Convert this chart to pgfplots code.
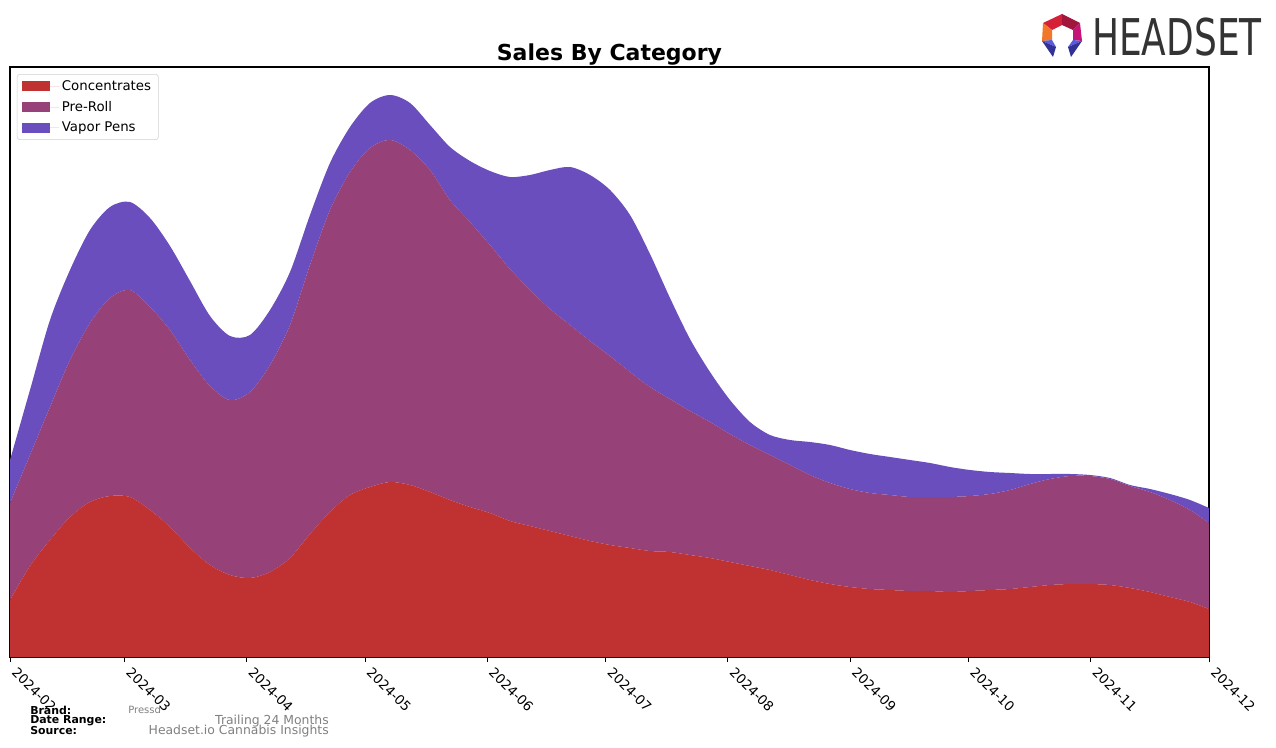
\documentclass[border=0pt]{standalone}
\usepackage{fontspec}
\setmainfont{DejaVu Sans}
\usepackage{pgfplots}
\pgfplotsset{compat=1.18}
\usepackage{pgfplotstable}
\definecolor{conc}{RGB}{192,50,50}
\definecolor{preroll}{RGB}{150,65,120}
\definecolor{vapor}{RGB}{107,78,190}
\definecolor{footgray}{RGB}{128,128,128}
\definecolor{logored}{RGB}{214,32,56}
\definecolor{logocrim}{RGB}{160,22,60}
\definecolor{logoorange}{RGB}{240,120,40}
\definecolor{logomag}{RGB}{196,20,120}
\definecolor{logoblue}{RGB}{90,90,220}
\definecolor{logonavy}{RGB}{50,50,150}
\definecolor{logotext}{RGB}{51,51,51}

% days since 2024-02-01, sales per category (arbitrary units)
\pgfplotstableread{
day    conc pre vap
0      57   97  43
5.07   91   111 65
10.14  117  133 87
15.21  140  157 90
20.28  155  179 93
25.35  161  198 91
30.43  160  207 88
35.50  147  203 89
40.57  130  197 84
45.64  109  188 79
50.71  92   179 70
55.78  82   175 64
60.85  79   186 57
65.92  85   207 55
70.99  99   233 53
76.06  123  269 50
81.13  145  302 47
86.21  162  323 45
91.28  170  339 45
96.35  175  342 45
101.42 172  335 47
106.49 165  322 45
111.56 157  300 53
116.63 150  285 61
121.70 144  268 74
126.77 136  252 92
131.84 131  236 115
136.91 126  222 139
141.99 121  211 158
147.06 116  200 166
152.13 112  189 166
157.20 109  176 157
162.27 106  164 133
167.34 105  153 101
172.41 102  144 72
177.48 99   136 50
182.55 95   128 34
187.62 91   121 23
192.69 87   115 20
197.77 82   110 25
202.84 77   105 33
207.91 73   101 38
212.98 70   98  39
218.05 68   96  39
223.12 67   95  38
228.19 66   94  37
233.26 66   94  34
238.33 65   95  30
243.40 66   95  26
248.47 67   96  22
253.55 68   99  17
258.62 70   103 10
263.69 72   106 5
268.76 73   108 2
273.83 73   108 1
278.90 72   106 1
283.97 69   102 1
289.04 65   100 3
294.11 60   97  6
299.18 55   92  10
304    48   86  15
}\sales

\begin{document}
\begin{tikzpicture}
\path (0,0) rectangle (957pt,560.25pt);
\begin{axis}[
    at={(7.5pt,67.5pt)}, anchor=south west,
    width=899.25pt, height=442.5pt, scale only axis,
    xmin=0, xmax=304, ymin=0, ymax=590,
    stack plots=y,
    xtick={0,29,60,90,121,151,182,213,243,274,304},
    xticklabels={2024-02,2024-03,2024-04,2024-05,2024-06,2024-07,2024-08,2024-09,2024-10,2024-11,2024-12},
    xticklabel style={font=\fontsize{10}{12}\selectfont, xshift=6pt, yshift=-1.5pt,
        rotate=-45, anchor=north west, inner sep=1pt},
    ytick=\empty,
    tick align=outside, major tick length=3.75pt,
    x tick style={black, line width=0.6pt},
    xtick pos=bottom,
    axis line style={line width=0.8pt},
    legend style={at={(0.0058,0.988)}, anchor=north west,
        font=\fontsize{10}{12}\selectfont, draw=black!18, rounded corners=2pt,
        inner xsep=3.5pt, inner ysep=2.5pt, row sep=2.6pt},
    legend cell align=left,
    legend image code/.code={\path[#1, sharp corners] (0pt,-3.75pt) rectangle (21pt,3.75pt);
        \path (21pt,0pt) -- (28pt,0pt);},
]
\addplot[fill=conc, draw=none, smooth]
  table[x=day, y=conc] {\sales} \closedcycle;
\addplot[fill=preroll, draw=none, smooth]
  table[x=day, y=pre] {\sales} \closedcycle;
\addplot[fill=vapor, draw=none, smooth]
  table[x=day, y=vap] {\sales} \closedcycle;
\legend{Concentrates, Pre-Roll, Vapor Pens}
\end{axis}

% title
\node[font=\fontsize{16.5}{19}\selectfont\bfseries] at (457.1pt,519.5pt) {Sales By Category};

% footer
\begin{scope}[x=0.75pt, y=-0.75pt, shift={(0,560.25pt)}]
\node[anchor=west, font=\fontsize{8.2}{9}\selectfont\bfseries, inner sep=0] at (30,710) {Brand:};
\node[anchor=west, font=\fontsize{8.2}{9}\selectfont\bfseries, inner sep=0] at (30,721) {Date Range:};
\node[anchor=west, font=\fontsize{8.2}{9}\selectfont\bfseries, inner sep=0] at (30,731) {Source:};
\node[anchor=west, font=\fontsize{7.5}{9}\selectfont, text=footgray, inner sep=0] at (128,710) {Pressd};
\node[anchor=east, font=\fontsize{9.3}{10}\selectfont, text=footgray, inner sep=0] at (329,721.5) {Trailing 24 Months};
\node[anchor=east, font=\fontsize{9.3}{10}\selectfont, text=footgray, inner sep=0] at (329,731.5) {Headset.io Cannabis Insights};

% logo
\fill[logored] (1043,23) -- (1062,14) -- (1062,25) -- (1052,30) -- cycle;
\fill[logocrim] (1062,14) -- (1080,23) -- (1073,30) -- (1062,25) -- cycle;
\fill[logoorange] (1043,23) -- (1052,30) -- (1052,40) -- (1042,41) -- cycle;
\fill[logomag] (1080,23) -- (1082,41) -- (1073,40) -- (1073,30) -- cycle;
\fill[logoblue] (1042,41) -- (1052,40) -- (1056,47) -- cycle;
\fill[logonavy] (1042,41) -- (1056,47) -- (1053,57) -- cycle;
\fill[logoblue] (1082,41) -- (1073,40) -- (1068,47) -- cycle;
\fill[logonavy] (1082,41) -- (1068,47) -- (1071,57) -- cycle;
\node[anchor=west, font=\fontsize{38}{40}\selectfont, text=logotext, inner sep=0, xscale=0.71] at (1092,37) {HEADSET};
\end{scope}
\end{tikzpicture}
\end{document}
